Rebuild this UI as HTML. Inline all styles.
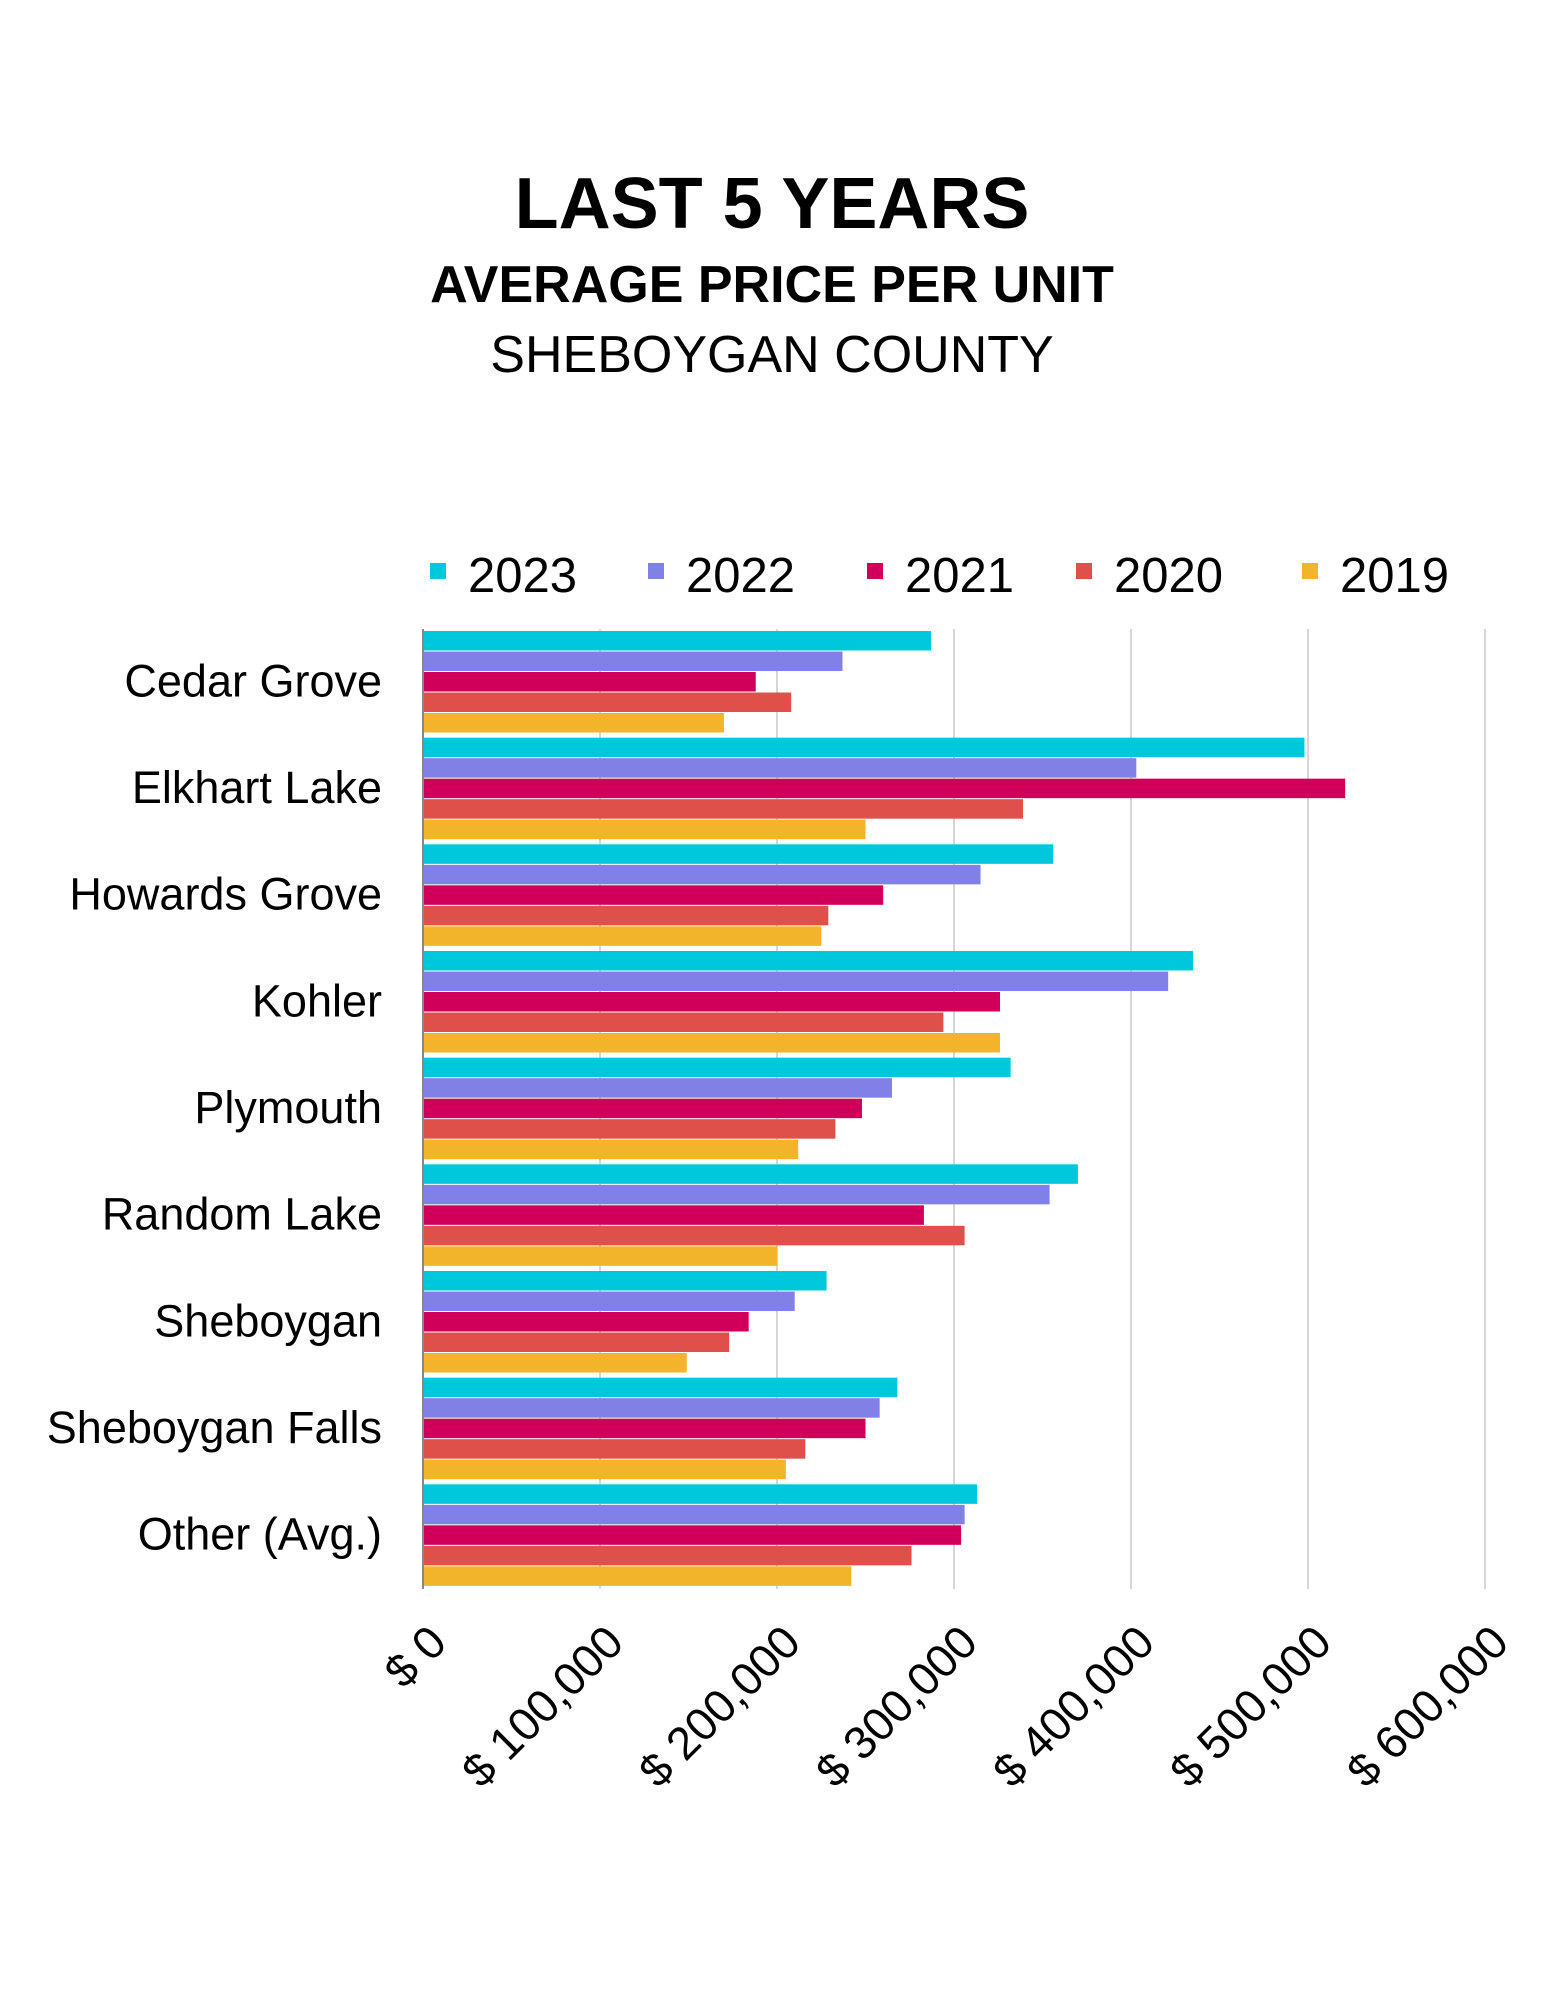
<!DOCTYPE html>
<html><head><meta charset="utf-8">
<style>
body{margin:0;background:#fff;}
svg text{font-family:"Liberation Sans",sans-serif;}
</style></head>
<body>
<svg width="1545" height="2000" xmlns="http://www.w3.org/2000/svg">
<text x="772" y="228" text-anchor="middle" font-size="72" font-weight="bold">LAST 5 YEARS</text>
<text x="772" y="302" text-anchor="middle" font-size="52" font-weight="bold">AVERAGE PRICE PER UNIT</text>
<text x="772" y="372" text-anchor="middle" font-size="52">SHEBOYGAN COUNTY</text>
<g id="legend"></g>
<g id="grid"></g>
<g id="bars"></g>
<g id="ylabels"></g>
<g id="xlabels"></g>
<line x1="423" y1="629" x2="423" y2="1589" stroke="#888" stroke-width="2"/>
</svg>
<script>
const categories=["Cedar Grove","Elkhart Lake","Howards Grove","Kohler","Plymouth","Random Lake","Sheboygan","Sheboygan Falls","Other (Avg.)"];
const seriesNames=["2023","2022","2021","2020","2019"];
const s2023=[287000,498000,356000,435000,332000,370000,228000,268000,313000];
const s2022=[237000,403000,315000,421000,265000,354000,210000,258000,306000];
const s2021=[188000,521000,260000,326000,248000,283000,184000,250000,304000];
const s2020=[208000,339000,229000,294000,233000,306000,173000,216000,276000];
const s2019=[170000,250000,225000,326000,212000,200000,149000,205000,242000];
const ticks=[0,100000,200000,300000,400000,500000,600000];
const tickLabels=["$ 0","$ 100,000","$ 200,000","$ 300,000","$ 400,000","$ 500,000","$ 600,000"];
const series=[s2023,s2022,s2021,s2020,s2019];
const colors=["#00c8dc","#8080e6","#d0005a","#e0504a","#f2b42a"];
const NS="http://www.w3.org/2000/svg";
const X0=423,PPU=177/100000,TOP=629,BOT=1589;
const catH=(BOT-TOP)/categories.length;
const barH=19.5,barGap=1;
function xs(v){return X0+v*PPU;}
function mk(t,a,p){const e=document.createElementNS(NS,t);for(const k in a)e.setAttribute(k,a[k]);document.getElementById(p).appendChild(e);return e;}
ticks.forEach((t,i)=>{
  if(i>0){const l=mk('line',{x1:xs(t),x2:xs(t),y1:TOP,y2:BOT,stroke:'#c8c8c8','stroke-width':1.5},'grid');
  
  }
  const tx=xs(t)+26,ty=1645;
  const e=mk('text',{x:tx,y:ty,'text-anchor':'end','font-size':46,transform:`rotate(-45 ${tx} ${ty})`},'xlabels');
  e.textContent=tickLabels[i];
  
  
});
categories.forEach((c,ci)=>{
  const y0=TOP+ci*catH+2;
  series.forEach((s,si)=>{
    const r=mk('rect',{x:X0,y:y0+si*(barH+barGap),width:xs(s[ci])-X0,height:barH,fill:colors[si]},'bars');
    
    
  });
  const t=mk('text',{x:382,y:TOP+ci*catH+catH/2+14,'text-anchor':'end','font-size':45},'ylabels');
  t.textContent=c;
  
  
});
const lx=[430,648,867,1076,1302];
seriesNames.forEach((n,i)=>{
  const r=mk('rect',{x:lx[i],y:563,width:16,height:16,fill:colors[i]},'legend');
  
  
  const t=mk('text',{x:lx[i]+38,y:592,'font-size':49},'legend');
  t.textContent=n;
  
  
});
</script>
</body></html>
